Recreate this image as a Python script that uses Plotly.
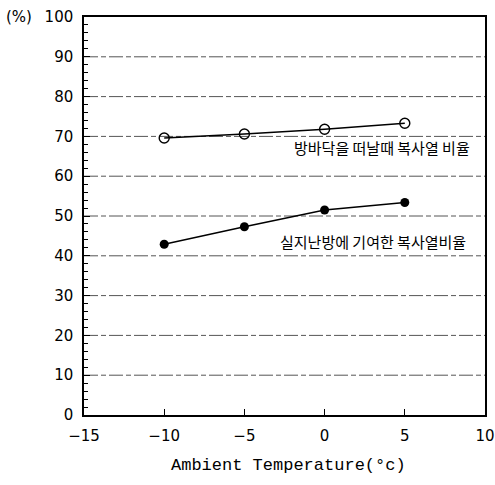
import plotly.graph_objects as go

temps = [-10, -5, 0, 5]
floor_ratio = [69.6, 70.6, 71.8, 73.3]
heating_ratio = [42.9, 47.3, 51.5, 53.4]
floor_label = "방바닥을 떠날때 복사열 비율"
heating_label = "실지난방에 기여한 복사열비율"
x_ticks = [-15, -10, -5, 0, 5, 10]
x_tick_text = ["−15", "−10", "−5", "0", "5", "10"]
y_ticks = list(range(0, 101, 10))

fig = go.Figure()
for yv in y_ticks[1:-1]:
    fig.add_shape(type="line", xref="paper", x0=0, x1=1, yref="y", y0=yv, y1=yv,
                  line=dict(color="#555", width=1, dash="14px,3px,5px,3px"), layer="below")

fig.add_trace(go.Scatter(x=temps, y=floor_ratio, mode="lines+markers",
                         line=dict(color="black", width=1.4),
                         marker=dict(symbol="circle-open", size=10, color="black", line=dict(width=1.4)),
                         showlegend=False))
fig.add_trace(go.Scatter(x=temps, y=heating_ratio, mode="lines+markers",
                         line=dict(color="black", width=1.4),
                         marker=dict(symbol="circle", size=9, color="black"),
                         showlegend=False))

fig.add_annotation(x=3.55, y=67.2, text=floor_label, showarrow=False,
                   font=dict(family="Noto Sans CJK KR", size=15, color="black"), xanchor="center")
fig.add_annotation(x=3.0, y=43.5, text=heating_label, showarrow=False,
                   font=dict(family="Noto Sans CJK KR", size=15, color="black"), xanchor="center")
fig.add_annotation(xref="paper", yref="y", x=-0.125, y=100, text="(%)", showarrow=False,
                   xanchor="right", font=dict(family="DejaVu Sans", size=15, color="black"))
fig.add_annotation(xref="paper", yref="paper", x=0.51, y=-0.128, yanchor="middle",
                   text="Ambient Temperature(°c)", showarrow=False,
                   font=dict(family="Liberation Mono", size=17, color="black"))

fig.update_xaxes(range=[-15, 10], tickvals=x_ticks, ticktext=x_tick_text,
                 ticks="inside", ticklen=6, tickcolor="black",
                 showline=True, linecolor="black", linewidth=1.5, mirror=True,
                 showgrid=False, zeroline=False, automargin=False,
                 ticklabelstandoff=6,
                 tickfont=dict(family="DejaVu Sans", size=15, color="black"))
fig.update_yaxes(range=[0, 100], tickvals=y_ticks,
                 ticks="inside", ticklen=6, tickcolor="black",
                 minor=dict(dtick=2, ticks="inside", ticklen=4, tickcolor="black"),
                 showline=True, linecolor="black", linewidth=1.5, mirror=True,
                 showgrid=False, zeroline=False, automargin=False,
                 ticklabelstandoff=6,
                 tickfont=dict(family="DejaVu Sans", size=15, color="black"))

fig.update_layout(width=495, height=485, margin=dict(l=84, r=10, t=17, b=70, autoexpand=False),
                  plot_bgcolor="white", paper_bgcolor="white")
fig.write_html("out.html", config={"displayModeBar": False},
               post_script="document.body.style.margin='0px';document.body.style.overflow='hidden';")
